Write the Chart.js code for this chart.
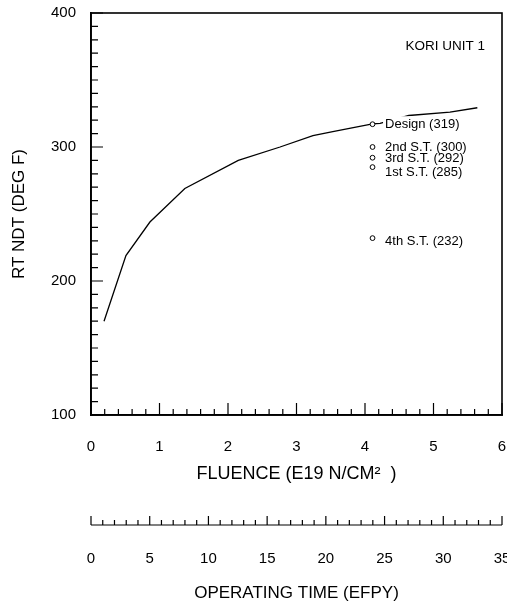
<!DOCTYPE html>
<html>
<head>
<meta charset="utf-8">
<script src="https://cdn.jsdelivr.net/npm/chart.js@4"></script>
<style>
  html, body { margin: 0; padding: 0; background: #fff; }
  #wrap { width: 507px; height: 605px; }
</style>
</head>
<body>
<div id="wrap"><canvas id="rtndt"></canvas></div>
<script>
'use strict';

// ── Data ────────────────────────────────────────────────────────────────────
// RT NDT trend curve: fluence (E19 n/cm2) vs RT NDT (deg F)
var curveFluence = [0.19, 0.51, 0.86, 1.37, 2.15, 2.76, 3.24, 3.53, 3.81, 4.11, 4.22, 4.64, 5.24, 5.64];
var curveRtndt   = [170, 219, 244, 269, 290, 300, 308.5, 311.5, 314.3, 317.3, 317.7, 323.5, 326, 329.3];

// Surveillance / design points (all plotted at the same fluence)
var pointLabels  = ['Design (319)', '2nd S.T. (300)', '3rd S.T. (292)', '1st S.T. (285)', '4th S.T. (232)'];
var pointFluence = [4.11, 4.11, 4.11, 4.11, 4.11];
var pointRtndt   = [317, 300, 292, 285, 232];

// Axis ranges / ticks
var xRange    = [0, 6];
var xStep     = 0.2;
var yRange    = [100, 400];
var yStep     = 10;
var efpyRange = [0, 35];
var efpyStep  = 1;

var plantName = 'KORI UNIT 1';

// ── Style ───────────────────────────────────────────────────────────────────
var FONT = '"Liberation Sans", Arial, Helvetica, sans-serif';
var INK  = '#000';
var labelNudge = [0, 0, 1, 5, 3];   // px, vertical offset of each point label

function isWhole(v, every) {
  var q = v / every;
  return Math.abs(q - Math.round(q)) < 1e-6;
}

function zip(xs, ys) {
  return xs.map(function (x, i) { return { x: x, y: ys[i] }; });
}

// inward tick marks, frame, secondary EFPY axis line and text notes
var figureDecor = {
  id: 'figureDecor',
  afterDatasetsDraw: function (chart) {
    var ctx = chart.ctx, a = chart.chartArea;
    var xs = chart.scales.x, ys = chart.scales.y, x2 = chart.scales.x2;
    ctx.save();
    ctx.strokeStyle = INK;
    ctx.fillStyle = INK;

    // frame (top + right; left/bottom come from the axis borders)
    ctx.lineWidth = 1.6;
    ctx.strokeRect(a.left, a.top, a.right - a.left, a.bottom - a.top);

    // inward ticks on fluence axis
    ctx.lineWidth = 1.2;
    ctx.beginPath();
    xs.ticks.forEach(function (t) {
      var px = xs.getPixelForValue(t.value);
      var len = isWhole(t.value, 1) ? 12 : 6;
      ctx.moveTo(px, a.bottom);
      ctx.lineTo(px, a.bottom - len);
    });
    // inward ticks on RT NDT axis
    ys.ticks.forEach(function (t) {
      var py = ys.getPixelForValue(t.value);
      var len = isWhole(t.value, 100) ? 12 : 7;
      ctx.moveTo(a.left, py);
      ctx.lineTo(a.left + len, py);
    });
    ctx.stroke();

    // secondary operating-time axis: base line with upward ticks
    var base = x2.top + 40;
    ctx.beginPath();
    ctx.moveTo(x2.left, base);
    ctx.lineTo(x2.right, base);
    x2.ticks.forEach(function (t) {
      var px = x2.getPixelForValue(t.value);
      var len = isWhole(t.value, 5) ? 9 : 5;
      ctx.moveTo(px, base);
      ctx.lineTo(px, base - len);
    });
    ctx.stroke();

    // point labels
    ctx.font = '13px ' + FONT;
    ctx.textBaseline = 'middle';
    ctx.textAlign = 'left';
    pointLabels.forEach(function (txt, i) {
      var px = xs.getPixelForValue(pointFluence[i]) + 12.5;
      var py = ys.getPixelForValue(pointRtndt[i]) + labelNudge[i];
      if (i === 0) {
        ctx.fillStyle = '#fff';
        ctx.fillRect(px - 2, py - 8, ctx.measureText(txt).width + 4, 16);
        ctx.fillStyle = INK;
      }
      ctx.fillText(txt, px, py);
    });

    // plant name
    ctx.font = '13.5px ' + FONT;
    ctx.textAlign = 'right';
    ctx.fillText(plantName, a.right - 17, a.top + 33);
    ctx.restore();
  }
};

function fixWidth(w) {
  return function (s) { s.width = w; s.paddingTop = 0; s.paddingBottom = 0; };
}
function fixHeight(h) {
  return function (s) { s.height = h; s.paddingLeft = 0; s.paddingRight = 0; };
}

new Chart(document.getElementById('rtndt').getContext('2d'), {
  type: 'line',
  data: {
    datasets: [{
      label: 'RT NDT',
      data: zip(curveFluence, curveRtndt),
      borderColor: INK,
      borderWidth: 1.3,
      pointRadius: 0,
      tension: 0,
      fill: false,
      order: 2
    }, {
      label: 'Points',
      data: zip(pointFluence, pointRtndt),
      showLine: false,
      pointStyle: 'circle',
      pointRadius: 2.4,
      pointBorderWidth: 1,
      pointBorderColor: INK,
      pointBackgroundColor: '#fff',
      order: 1
    }]
  },
  options: {
    responsive: true,
    maintainAspectRatio: false,
    animation: false,
    layout: { padding: { left: 0, right: 5, top: 13, bottom: 1 } },
    plugins: {
      legend: { display: false },
      tooltip: { enabled: false }
    },
    scales: {
      x: {
        type: 'linear',
        position: 'bottom',
        min: xRange[0], max: xRange[1],
        afterFit: fixHeight(70),
        grid: { display: false, drawTicks: false },
        border: { display: true, color: INK, width: 1.8 },
        ticks: {
          stepSize: xStep, autoSkip: false, maxRotation: 0,
          padding: 23, color: INK,
          font: { family: FONT, size: 15 },
          callback: function (v) { return isWhole(v, 1) ? String(Math.round(v)) : ''; }
        },
        title: {
          display: true, text: 'FLUENCE (E19 N/CM\u00B2  )', color: INK,
          font: { family: FONT, size: 18 }, padding: { top: 0, bottom: 0 }
        }
      },
      x2: {
        type: 'linear',
        position: 'bottom',
        min: efpyRange[0], max: efpyRange[1],
        afterFit: fixHeight(119),
        grid: { display: false, drawTicks: false },
        border: { display: false },
        ticks: {
          stepSize: efpyStep, autoSkip: false, maxRotation: 0,
          padding: 65, color: INK,
          font: { family: FONT, size: 15 },
          callback: function (v) { return isWhole(v, 5) ? String(Math.round(v)) : ''; }
        },
        title: {
          display: true, text: 'OPERATING TIME (EFPY)', color: INK,
          font: { family: FONT, size: 17 }, padding: { top: 0, bottom: 0 }
        }
      },
      y: {
        type: 'linear',
        min: yRange[0], max: yRange[1],
        afterFit: fixWidth(91),
        grid: { display: false, drawTicks: false },
        border: { display: true, color: INK, width: 1.8 },
        ticks: {
          stepSize: yStep, autoSkip: false,
          padding: 15, color: INK,
          font: { family: FONT, size: 15 },
          callback: function (v) { return isWhole(v, 100) ? String(v) : ''; }
        },
        title: {
          display: true, text: 'RT NDT (DEG F)', color: INK,
          font: { family: FONT, size: 17 }, padding: { top: 9, bottom: 0 }
        }
      }
    }
  },
  plugins: [figureDecor]
});
</script>
</body>
</html>
